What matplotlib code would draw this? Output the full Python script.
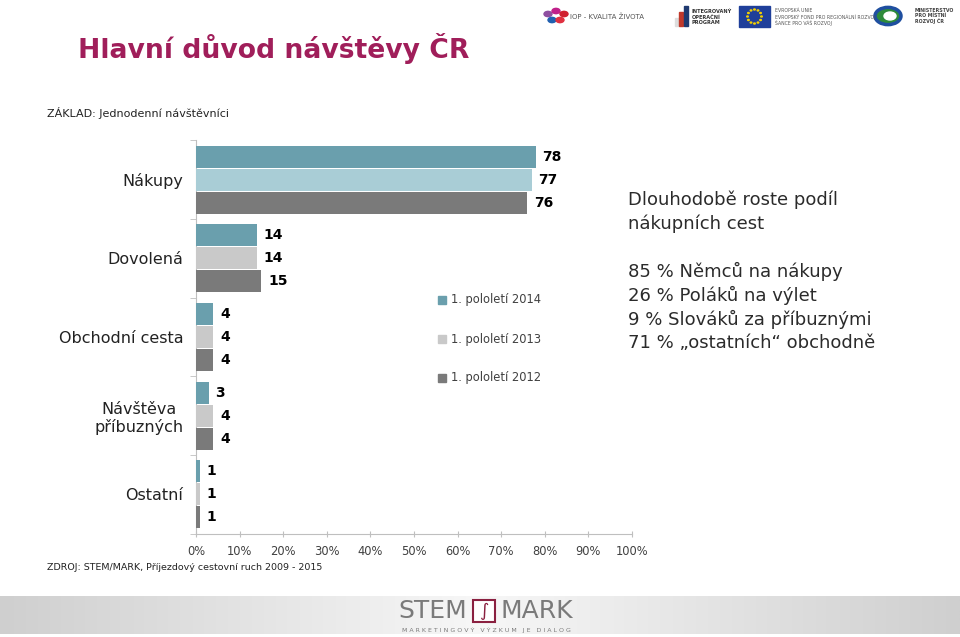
import numpy as np
import matplotlib
matplotlib.use("Agg")
import matplotlib.pyplot as plt
from matplotlib.patches import Rectangle, Circle
import matplotlib.colors as mcolors

# ---------------- data ----------------
categories = ["Nákupy", "Dovolená", "Obchodní cesta", "Návštěva\npříbuzných", "Ostatní"]
series_names = ["1. pololetí 2014", "1. pololetí 2013", "1. pololetí 2012"]
values_2014 = [78, 14, 4, 3, 1]
values_2013 = [77, 14, 4, 4, 1]
values_2012 = [76, 15, 4, 4, 1]
x_ticks = [0, 10, 20, 30, 40, 50, 60, 70, 80, 90, 100]
x_tick_labels = [f"{t}%" for t in x_ticks]
notes = ["Dlouhodobě roste podíl", "nákupních cest", "",
         "85 % Němců na nákupy", "26 % Poláků na výlet",
         "9 % Slováků za příbuznými", "71 % „ostatních“ obchodně"]

# ---------------- style ----------------
plt.rcParams['font.family'] = ['DejaVu Sans']
c2014 = "#6A9FAD"
c2013 = "#C9C9C9"
c2013_first = "#A9CDD6"
c2012 = "#7A7A7A"
title_color = "#A01E5A"

W, H = 960, 637
fig = plt.figure(figsize=(W / 100, H / 100), dpi=100)
fig.patch.set_facecolor("white")

def fx(px):
    return px / W

def fy(py):
    return 1 - py / H

ax = fig.add_axes([fx(196), fy(533.5), fx(632) - fx(196), fy(140.5) - fy(533.5)])
n = len(categories)
y = np.arange(n)
bh = 0.28
off = 0.293
series = [values_2014, values_2013, values_2012]
colors = [[c2014] * n, [c2013_first] + [c2013] * (n - 1), [c2012] * n]
for i, (vals, cols) in enumerate(zip(series, colors)):
    pos = y + (i - 1) * off
    ax.barh(pos, vals, height=bh, color=cols, edgecolor="none", zorder=3)
    for p, v in zip(pos, vals):
        ax.text(v + 1.5, p, f"{v}", va="center", ha="left", fontsize=10,
                fontweight="bold", color="black")

ax.set_xlim(0, 100)
ax.set_ylim(n - 0.5, -0.5)
ax.set_xticks(x_ticks)
ax.set_xticklabels(x_tick_labels, fontsize=8.3, color="#404040")
ax.set_yticks(y)
ax.set_yticklabels(categories, fontsize=11.5, color="#222222")
ax.set_yticks(np.arange(-0.5, n, 1.0), minor=True)
ax.tick_params(axis="y", which="major", length=0, pad=9)
ax.tick_params(axis="y", which="minor", length=4, color="#BFBFBF", direction="out")
ax.tick_params(axis="x", length=4, color="#BFBFBF", direction="inout", pad=6)
for s in ["top", "right"]:
    ax.spines[s].set_visible(False)
for s in ["left", "bottom"]:
    ax.spines[s].set_color("#BFBFBF")
    ax.spines[s].set_linewidth(0.8)
ax.set_facecolor("none")
for lbl in ax.get_yticklabels():
    lbl.set_multialignment("center")

# legend
leg_colors = [c2014, c2013, c2012]
for i, (name, c) in enumerate(zip(series_names, leg_colors)):
    yy = 300 + i * 39
    fig.patches.append(Rectangle((fx(438), fy(yy + 4)), fx(8), fy(yy - 4) - fy(yy + 4),
                                 transform=fig.transFigure, color=c))
    fig.text(fx(451), fy(yy), name, fontsize=8.3, color="#404040", va="center", ha="left")

# title and texts
fig.text(fx(78), fy(48), "Hlavní důvod návštěvy ČR", fontsize=19.2, fontweight="bold",
         color=title_color, va="center", ha="left")
fig.text(fx(47), fy(113), "ZÁKLAD: Jednodenní návštěvníci", fontsize=8, color="#222222",
         va="center", ha="left")
fig.text(fx(47), fy(568), "ZDROJ: STEM/MARK, Příjezdový cestovní ruch 2009 - 2015",
         fontsize=6.8, color="#222222", va="center", ha="left")

for i, line in enumerate(notes):
    fig.text(fx(628), fy(200 + i * 23.8), line, fontsize=13, color="#2B2B2B",
             va="center", ha="left")

# footer band with gradient
bg = fig.add_axes([0, fy(634), 1, fy(596) - fy(634)])
grad = np.abs(np.linspace(-1, 1, 400))
grad = np.vstack([grad, grad])
cmap = mcolors.LinearSegmentedColormap.from_list("g", ["#F7F7F7", "#CFCFCF"])
bg.imshow(grad, aspect="auto", cmap=cmap, extent=[0, 1, 0, 1])
bg.set_axis_off()
fig.text(fx(433), fy(611), "STEM", fontsize=18, color="#7A7A7A", ha="center", va="center")
fig.text(fx(537), fy(611), "MARK", fontsize=18, color="#7A7A7A", ha="center", va="center")
fig.patches.append(Rectangle((fx(473), fy(622)), fx(22), fy(600) - fy(622),
                             transform=fig.transFigure, facecolor="white",
                             edgecolor="#8A2040", linewidth=1.5))
fig.text(fx(484), fy(611), "∫", fontsize=13, color="#8A2040", ha="center", va="center")
fig.text(fx(486), fy(630), "M A R K E T I N G O V Ý   V Ý Z K U M   J E   D I A L O G",
         fontsize=4.5, color="#7A7A7A", ha="center", va="center")

# logos top right (simplified)
for (cx, cy, c) in [(548, 14, "#8E4FA0"), (556, 11, "#C0208A"), (564, 14, "#D02030"),
                    (552, 20, "#2060B0"), (560, 20, "#E03040")]:
    fig.patches.append(Circle((fx(cx), fy(cy)), fx(4), transform=fig.transFigure, color=c))
fig.text(fx(570), fy(17), "IOP - KVALITA ŽIVOTA", fontsize=5, color="#555555", va="center")
for (x0, h, c) in [(675, 8, "#DDDDDD"), (679, 14, "#C0392B"), (684, 20, "#1F3A70")]:
    fig.patches.append(Rectangle((fx(x0), fy(26)), fx(3.5), fy(26 - h) - fy(26),
                                 transform=fig.transFigure, color=c))
fig.text(fx(692), fy(17), "INTEGROVANÝ\nOPERAČNÍ\nPROGRAM", fontsize=3.6,
         fontweight="bold", color="#333333", va="center", linespacing=1.1)
fig.patches.append(Rectangle((fx(739), fy(27)), fx(31), fy(6) - fy(27),
                             transform=fig.transFigure, color="#1F3F9A"))
for k in range(12):
    a = 2 * np.pi * k / 12
    fig.patches.append(Circle((fx(754.5 + 7 * np.cos(a)), fy(16.5 + 7 * np.sin(a))), fx(0.8),
                              transform=fig.transFigure, color="#F4D000"))
fig.text(fx(775), fy(17), "EVROPSKÁ UNIE\nEVROPSKÝ FOND PRO REGIONÁLNÍ ROZVOJ\nŠANCE PRO VÁŠ ROZVOJ",
         fontsize=3.3, color="#555555", va="center", linespacing=1.2)
fig.patches.append(Circle((fx(888), fy(16)), fx(13), transform=fig.transFigure,
                          facecolor="#2E8B3A", edgecolor="#1F4FA0", linewidth=2.5))
fig.patches.append(Circle((fx(890), fy(16)), fx(6), transform=fig.transFigure, color="white"))
fig.text(fx(915), fy(16), "MINISTERSTVO\nPRO MÍSTNÍ\nROZVOJ ČR", fontsize=3.4,
         fontweight="bold", color="#444444", va="center", linespacing=1.1)

fig.savefig("out.png", dpi=100, facecolor="white")
